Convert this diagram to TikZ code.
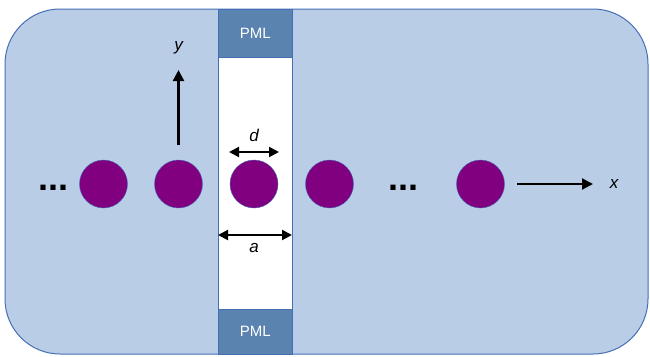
\documentclass[tikz,border=0pt]{standalone}
\usepackage{fontspec}
\setmainfont{Liberation Sans}
\usetikzlibrary{arrows.meta}
\definecolor{fond}{RGB}{185,206,230}
\definecolor{bord}{RGB}{70,110,180}
\definecolor{bleupml}{RGB}{91,131,176}
\definecolor{violet}{RGB}{128,0,128}
\tikzstyle{pml} = [rectangle, fill=bleupml, draw=bord, minimum width=74pt, text=white, font=\fontsize{15}{15}\selectfont, inner sep=0pt]
\tikzstyle{tige} = [circle, fill=violet, draw=bord, minimum size=48pt, inner sep=0pt]
\tikzstyle{etiquette} = [font=\fontsize{17}{17}\selectfont\itshape, inner sep=0pt]
\tikzstyle{points} = [font=\fontsize{36}{36}\selectfont\bfseries, inner sep=0pt]
\tikzstyle{fleche} = [line width=2.2pt, -{Triangle[length=11pt,width=11pt]}]
\tikzstyle{cote} = [line width=2pt, {Triangle[length=10pt,width=10pt]}-{Triangle[length=10pt,width=10pt]}]

\begin{document}
\begin{tikzpicture}[x=1pt, y=-1pt]
                \useasboundingbox (0,0) rectangle (650,356);
                \draw [fill=fond, draw=bord, line width=1pt, rounded corners=55pt] (5,9) rectangle (648,354);
                \draw [fill=white, draw=bord, line width=1pt] (218,9) rectangle (292,354);

                \node (pmlhaut) [pml, minimum height=48pt, anchor=north west] at (218,9) {PML};
                \node (pmlbas) [pml, minimum height=45pt, anchor=north west] at (218,309) {PML};

                \node (t1) [tige] at (103.5,184) {};
                \node (t2) [tige] at (178.5,184) {};
                \node (t3) [tige] at (254,184) {};
                \node (t4) [tige] at (329.5,184) {};
                \node (t5) [tige] at (480.5,184) {};

                \node (pointsg) [points, anchor=base] at (53.5,190) {...};
                \node (pointsm) [points, anchor=base] at (403,190) {...};

                \coordinate (ybas) at (178.5,145);
                \node (ylabel) [etiquette] at (178.5,48) {y};
                \coordinate (yhaut) at (178.5,70);
                \draw [fleche] (ybas) -- (yhaut);

                \coordinate (xdebut) at (517,184);
                \node (xlabel) [etiquette] at (614,184) {x};
                \coordinate (xfin) at (593,184);
                \draw [fleche] (xdebut) -- (xfin);

                \coordinate (dgauche) at (229,152);
                \coordinate (ddroite) at (279,152);
                \draw [cote] (dgauche) -- (ddroite);
                \node (dlabel) [etiquette] at (254,135) {d};

                \coordinate (agauche) at (218,235);
                \coordinate (adroite) at (292,235);
                \draw [cote] (agauche) -- (adroite);
                \node (alabel) [etiquette] at (254,248) {a};
            \end{tikzpicture}
\end{document}
